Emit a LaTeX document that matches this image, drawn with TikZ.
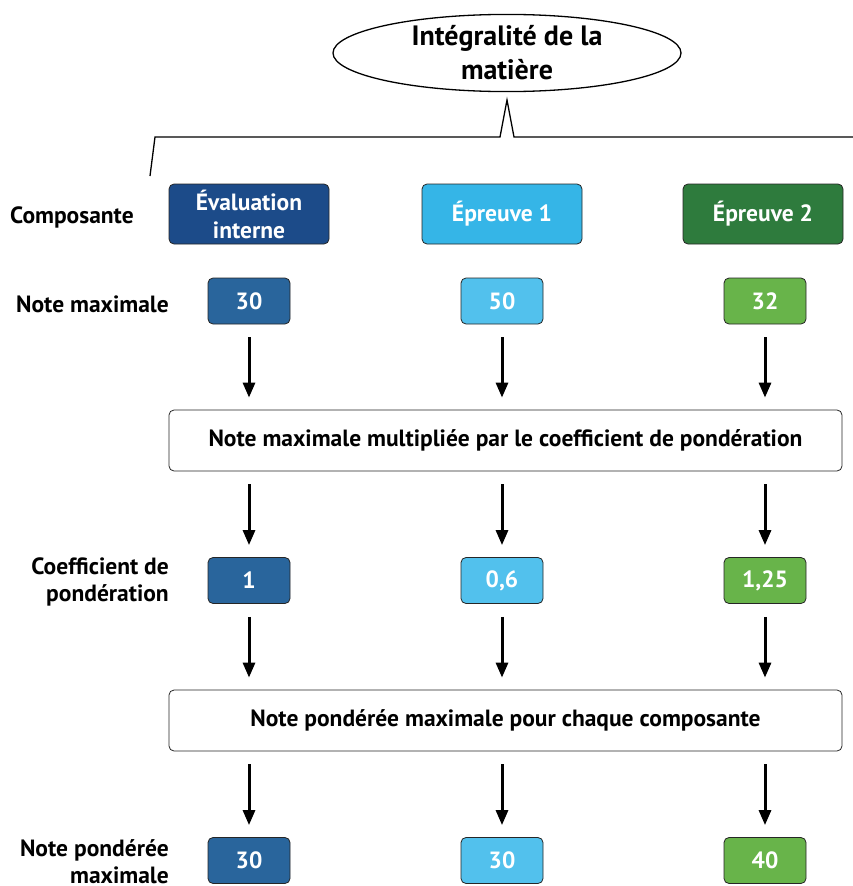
\documentclass[tikz,border=0pt]{standalone}
\usepackage{fontspec}
\setmainfont{PT Sans}
\usetikzlibrary{shapes.geometric,arrows.meta}
\definecolor{cEval}{HTML}{1C4B89}
\definecolor{cEvalL}{HTML}{29659C}
\definecolor{cEp1}{HTML}{35B5E7}
\definecolor{cEp1L}{HTML}{52C1ED}
\definecolor{cEp2}{HTML}{2E7B3D}
\definecolor{cEp2L}{HTML}{68B44A}
\begin{document}
\begin{tikzpicture}[x=1pt,y=-1pt,
  box/.style={draw=black!85, line width=0.8pt, rounded corners=5pt, text=white,
    font=\bfseries\fontsize{23.5}{28}\selectfont, align=center, inner sep=0pt},
  compbox/.style={box, minimum width=160pt, minimum height=60pt},
  valbox/.style={box, minimum width=82pt, minimum height=46pt},
  widebox/.style={box, fill=white, text=black, minimum width=673pt, minimum height=61pt},
  lbl/.style={font=\bfseries\fontsize{23.5}{27}\selectfont, align=right, inner sep=0pt},
  arr/.style={line width=3pt, -{Triangle[length=15pt,width=12pt]}, shorten <=13pt, shorten >=12pt}
]
\useasboundingbox (0,0) rectangle (853,886);

\node[ellipse, draw, line width=1.3pt, minimum width=348pt, minimum height=77pt,
  font=\bfseries\fontsize{28}{34}\selectfont, align=center, inner sep=0pt] (top) at (507,53) {Intégralité de la\\matière};
\draw[line width=1.3pt] (150,176) -- (155,137) -- (500,137) -- (507,100) -- (514,137) -- (853,137);

% components
\node[compbox, fill=cEval] (c1) at (249,214) {Évaluation\\interne};
\node[compbox, fill=cEp1] (c2) at (502,214) {Épreuve 1};
\node[compbox, fill=cEp2] (c3) at (763,214) {Épreuve 2};

% note maximale
\node[valbox, fill=cEvalL] (m1) at (249,301) {30};
\node[valbox, fill=cEp1L] (m2) at (502,301) {50};
\node[valbox, fill=cEp2L] (m3) at (765,301) {32};

\node[widebox] (w1) at (505.5,440.5) {Note maximale multipliée par le coefficient de pondération};

% coefficients
\node[valbox, fill=cEvalL] (k1) at (249,580.5) {1};
\node[valbox, fill=cEp1L] (k2) at (502,580.5) {0,6};
\node[valbox, fill=cEp2L] (k3) at (765,580.5) {1,25};

\node[widebox] (w2) at (505.5,720.5) {Note pondérée maximale pour chaque composante};

% final
\node[valbox, fill=cEvalL] (f1) at (249,860.5) {30};
\node[valbox, fill=cEp1L] (f2) at (502,860.5) {30};
\node[valbox, fill=cEp2L] (f3) at (765,860.5) {40};

% arrows
\foreach \i in {1,2,3} {
  \draw[arr] (m\i.south) -- (w1.north -| m\i.south);
  \draw[arr] (w1.south -| k\i.north) -- (k\i.north);
  \draw[arr] (k\i.south) -- (w2.north -| k\i.south);
  \draw[arr] (w2.south -| f\i.north) -- (f\i.north);
}

% left labels
\node[lbl, anchor=west] (l1) at (10,217) {Composante};
\node[lbl, anchor=east] (l2) at (169,304) {Note maximale};
\node[lbl, anchor=east] (l3) at (169,582) {Coefficient de\\pondération};
\node[lbl, anchor=east] (l4) at (169,862) {Note pondérée\\maximale};
\end{tikzpicture}
\end{document}
